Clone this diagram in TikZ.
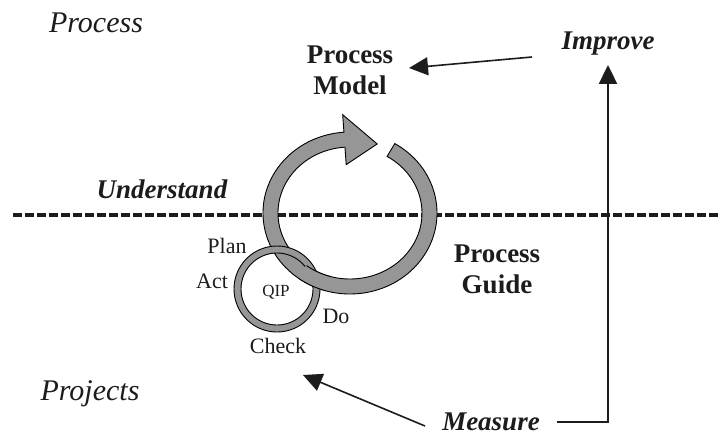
\documentclass[tikz,border=0pt]{standalone}
\usepackage{fontspec}
\setmainfont{Liberation Serif}
\usetikzlibrary{arrows.meta}
\definecolor{ringgray}{RGB}{150,150,150}
\definecolor{ink}{RGB}{28,28,28}
% outline of the large improvement cycle: ring band plus arrowhead
\newcommand{\cycleband}{([shift={(-59:87 and 81)}]c)
  arc[start angle=-59,end angle=266,x radius=87,y radius=81]
  -- ([shift={(266:104.5 and 98.5)}]c)
  -- ([shift={(290:79.5 and 73.5)}]c)
  -- ([shift={(266:54.5 and 48.5)}]c)
  -- ([shift={(266:72 and 66)}]c)
  arc[start angle=266,end angle=-59,x radius=72,y radius=66] -- cycle}
\begin{document}
\begin{tikzpicture}[x=1pt,y=-1pt,
  lbl/.style={inner sep=0pt, anchor=base, text=ink},
  zone/.style={lbl, font=\fontsize{30}{36}\selectfont\itshape},
  act/.style={lbl, font=\fontsize{27}{32}\selectfont\bfseries\itshape},
  doc/.style={lbl, align=center, font=\fontsize{27}{31}\selectfont\bfseries},
  phase/.style={lbl, font=\fontsize{22}{26}\selectfont},
  band/.style={fill=ringgray, draw=black, line width=0.9pt},
  link/.style={draw=ink, line width=1.6pt, -{Triangle[length=19pt,width=18pt]}},
  divider/.style={draw=ink, line width=3.5pt, dash pattern=on 9pt off 3pt}
]
\useasboundingbox (0,0) rectangle (721,436);

% boundary between process level and project level
\coordinate (divL) at (13,215);
\coordinate (divR) at (721,215);
\draw[divider] (divL) -- (divR);

% centres of the two cycles
\coordinate (c) at (350,213);
\coordinate (q) at (277,289);

% large cycle, small QIP cycle, then the large band again where it passes in front
\draw[band] \cycleband;
\draw[band, even odd rule] (q) circle[radius=43] (q) circle[radius=36];
\begin{scope}
  \clip ([shift={(116:79.5 and 73.5)}]c) circle[radius=16];
  \draw[band] \cycleband;
\end{scope}

% labels (two-line labels are placed by the baseline of their last line)
\node[zone] (process) at (96,33) {Process};
\node[zone] (projects) at (90,400) {Projects};
\node[act] (understand) at (162,198) {Understand};
\node[act] (improve) at (608,50) {Improve};
\node[act] (measure) at (491,430) {Measure};
\node[doc] (model) at (350,95) {Process\\Model};
\node[doc] (guide) at (497,293) {Process\\Guide};
\node[phase] (plan) at (227,253) {Plan};
\node[phase] (actn) at (212,288) {Act};
\node[phase] (check) at (278,353) {Check};
\node[phase] (do) at (336,323) {Do};
\node[lbl, font=\fontsize{17}{20}\selectfont] (qip) at (276,296) {QIP};

% connectors
\coordinate (impFrom) at (532,57);
\coordinate (impTo) at (409,68);
\draw[link] (impFrom) -- (impTo);
\coordinate (meaFrom) at (425,426);
\coordinate (meaTo) at (303,375);
\draw[link] (meaFrom) -- (meaTo);
\coordinate (loopFrom) at (557,422);
\coordinate (loopTo) at (608,65);
\draw[link, line width=2.4pt] (loopFrom) -| (loopTo);
\end{tikzpicture}
\end{document}
